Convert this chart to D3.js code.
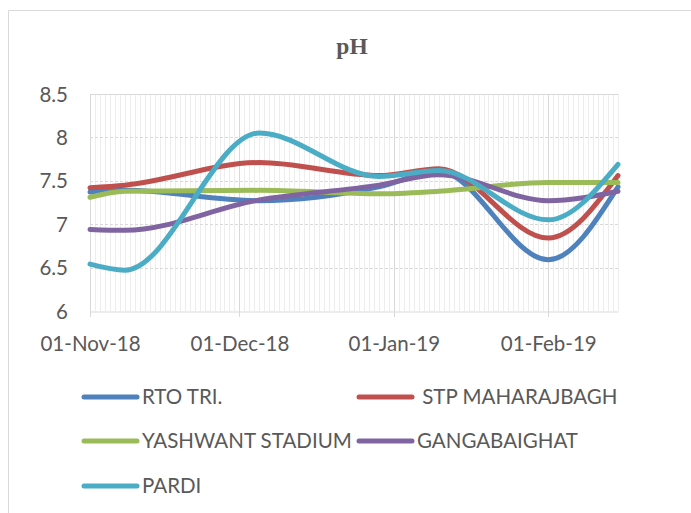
<!DOCTYPE html>
<html>
<head>
<meta charset="utf-8">
<script src="https://cdn.jsdelivr.net/npm/d3@7"></script>
<style>
  html, body { margin: 0; padding: 0; background: #fff; }
  svg { display: block; }
</style>
</head>
<body>
<svg id="chart" width="691" height="513"></svg>
<script>
// ---- data ----
const sampleDates = ["2018-11-01", "2018-11-08", "2018-12-05", "2018-12-29", "2019-01-10", "2019-02-01", "2019-02-15"];
const seriesNames = ["RTO TRI.", " STP MAHARAJBAGH", "YASHWANT STADIUM", "GANGABAIGHAT", "PARDI"];
const rtoTri          = [7.37, 7.39, 7.27, 7.43, 7.61, 6.59, 7.43];
const stpMaharajbagh  = [7.42, 7.45, 7.71, 7.56, 7.64, 6.84, 7.56];
const yashwantStadium = [7.31, 7.38, 7.39, 7.35, 7.38, 7.48, 7.48];
const gangabaighat    = [6.94, 6.93, 7.28, 7.45, 7.57, 7.27, 7.38];
const pardi           = [6.54, 6.47, 8.05, 7.55, 7.62, 7.05, 7.69];
const yTicks = [6, 6.5, 7, 7.5, 8, 8.5];
const xTickDates = ["2018-11-01", "2018-12-01", "2019-01-01", "2019-02-01"];
const axisStart = "2018-11-01", axisEnd = "2019-02-15";
const colors = ["#4F81BD", "#C0504D", "#9BBB59", "#8064A2", "#4BACC6"];

(function () {
const allSeries = [rtoTri, stpMaharajbagh, yashwantStadium, gangabaighat, pardi];
const parse = d3.utcParse("%Y-%m-%d");
const fmt = d3.utcFormat("%d-%b-%y");

const svg = d3.select("#chart");
const W = 691, H = 513;
const pL = 90, pR = 618, pT = 94, pB = 311;

// chart frame
svg.append("path")
  .attr("d", `M8.5,${H} L8.5,10.5 L${W},10.5`)
  .attr("fill", "none").attr("stroke", "#d9d9d9").attr("stroke-width", 1);

const x = d3.scaleUtc().domain([parse(axisStart), parse(axisEnd)]).range([pL, pR]);
const y = d3.scaleLinear().domain([6, 8.5]).range([pB, pT]);

// minor vertical gridlines (daily)
const days = d3.utcDay.range(parse(axisStart), d3.utcDay.offset(parse(axisEnd), 1));
svg.append("g").selectAll("line").data(days).join("line")
  .attr("x1", d => Math.round(x(d)) + 0.5).attr("x2", d => Math.round(x(d)) + 0.5)
  .attr("y1", pT).attr("y2", pB)
  .attr("stroke", "#ededed").attr("stroke-width", 1);

// horizontal gridlines
svg.append("g").selectAll("line").data(yTicks.filter(v => v > 6)).join("line")
  .attr("x1", pL).attr("x2", pR)
  .attr("y1", d => Math.round(y(d)) + 0.5).attr("y2", d => Math.round(y(d)) + 0.5)
  .attr("stroke", "#d9d9d9").attr("stroke-width", 1)
  .attr("stroke-dasharray", d => d === 8.5 ? null : "3,2");

// major vertical gridlines
const majors = xTickDates.map(parse);
svg.append("g").selectAll("line").data(majors).join("line")
  .attr("x1", d => Math.round(x(d)) + 0.5).attr("x2", d => Math.round(x(d)) + 0.5)
  .attr("y1", pT).attr("y2", pB + 6)
  .attr("stroke", "#d9d9d9").attr("stroke-width", 1);

// x axis
const xAxis = d3.axisBottom(x).tickValues(majors).tickFormat(fmt).tickSize(0).tickPadding(0);
const gx = svg.append("g").attr("transform", `translate(0,${Math.round(pB) + 0.5})`).call(xAxis);
gx.select(".domain").attr("stroke", "#d9d9d9");
gx.selectAll("text")
  .attr("y", 39).attr("dy", null)
  .attr("fill", "#595959")
  .style("font-family", "Lato, 'Open Sans', sans-serif").style("font-size", "20.5px");

// y axis
const yAxis = d3.axisLeft(y).tickValues(yTicks).tickFormat(d3.format("")).tickSize(0).tickPadding(0);
const gy = svg.append("g").attr("transform", `translate(68,0)`).call(yAxis);
gy.select(".domain").remove();
gy.selectAll("text")
  .attr("x", 0).attr("dy", "0.35em")
  .attr("fill", "#595959")
  .style("font-family", "Lato, 'Open Sans', sans-serif").style("font-size", "20.5px");

// lines
const dates = sampleDates.map(parse);
const line = d3.line()
  .x((d, i) => x(dates[i]))
  .y(d => y(d))
  .curve(d3.curveMonotoneX);

svg.append("g").selectAll("path").data(allSeries).join("path")
  .attr("d", d => line(d))
  .attr("fill", "none")
  .attr("stroke", (d, i) => colors[i])
  .attr("stroke-width", 5)
  .attr("stroke-linejoin", "round")
  .attr("stroke-linecap", "round");

// title
svg.append("text")
  .attr("x", 352).attr("y", 53.5)
  .attr("text-anchor", "middle")
  .attr("fill", "#595959")
  .style("font-family", "'Liberation Serif', 'Times New Roman', serif")
  .style("font-weight", "bold").style("font-size", "23.5px")
  .text("pH");

// legend
const legendPos = [[84, 397], [359, 397], [84, 441], [359, 441], [84, 486]];
const lg = svg.append("g").selectAll("g").data(seriesNames).join("g")
  .attr("transform", (d, i) => `translate(${legendPos[i][0]},${legendPos[i][1]})`);
lg.append("line")
  .attr("x1", 0).attr("x2", 53).attr("y1", 0).attr("y2", 0)
  .attr("stroke", (d, i) => colors[i]).attr("stroke-width", 5).attr("stroke-linecap", "round");
lg.append("text")
  .attr("x", 58).attr("y", 0).attr("dy", "0.35em")
  .attr("fill", "#595959")
  .style("font-family", "Lato, 'Open Sans', sans-serif").style("font-size", "20.5px")
  .style("white-space", "pre")
  .text(d => d);
})();
</script>
</body>
</html>
